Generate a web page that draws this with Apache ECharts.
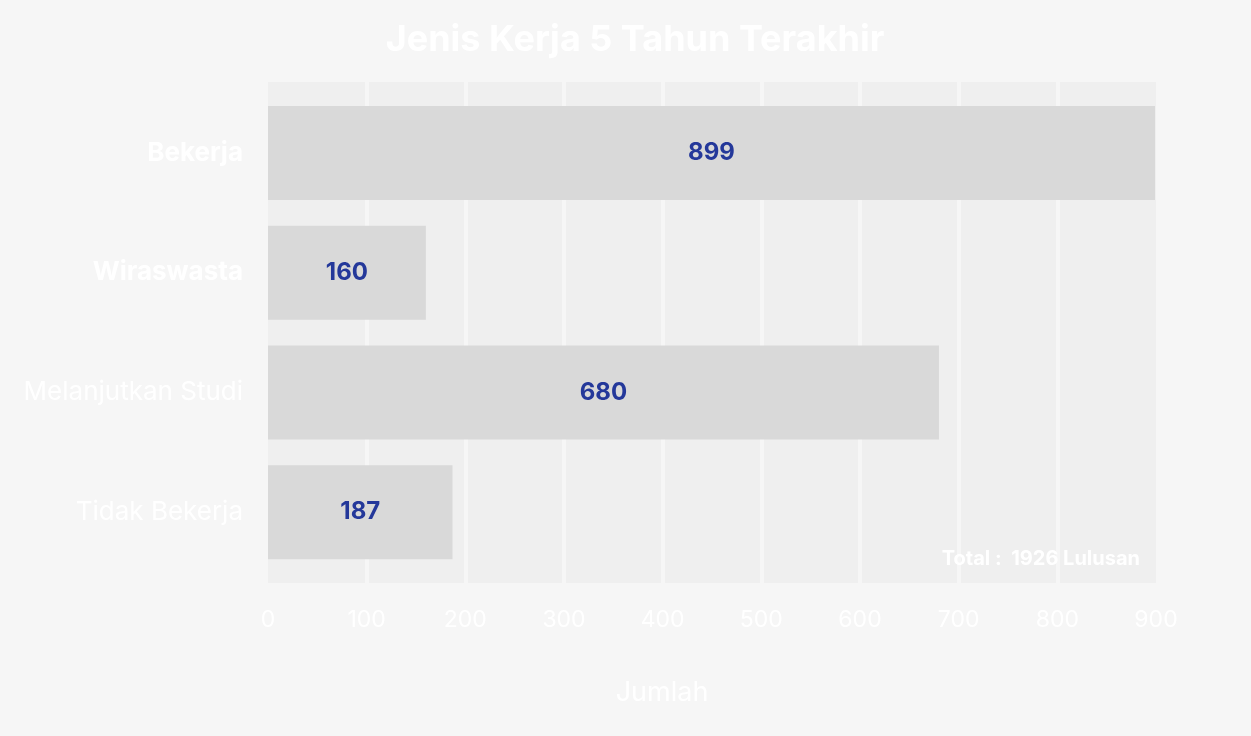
<!DOCTYPE html>
<html><head><meta charset="utf-8">
<script src="https://cdn.jsdelivr.net/npm/echarts@6/dist/echarts.min.js"></script>
<style>html,body{margin:0;padding:0;background:#f6f6f6}#c{width:1251px;height:736px}</style>
</head><body><div id="c"></div>
<script>
const categories = ['Bekerja', 'Wiraswasta', 'Melanjutkan Studi', 'Tidak Bekerja'];
const categoryWeights = ['bold', 'bold', 'normal', 'normal'];
const values = [899, 160, 680, 187];
const xTicks = [0, 100, 200, 300, 400, 500, 600, 700, 800, 900];
const titleText = 'Jenis Kerja 5 Tahun Terakhir';
const axisNameText = 'Jumlah';
const totalText = 'Total :  1926 Lulusan';

const FONT = 'Inter';
const chart = echarts.init(document.getElementById('c'), null, {renderer: 'canvas'});
chart.setOption({
  backgroundColor: '#f6f6f6',
  animation: false,
  textStyle: {fontFamily: FONT},
  title: [
    {text: titleText, left: 630, top: 17, textAlign: 'center',
     textStyle: {color: '#ffffff', fontSize: 36, fontWeight: 'bold', fontFamily: FONT}},
    {text: axisNameText, left: 657, top: 674, textAlign: 'center',
     textStyle: {color: '#ffffff', fontSize: 27, fontWeight: 'normal', fontFamily: FONT}},
    {text: totalText, left: 1135, top: 544, textAlign: 'right',
     textStyle: {color: '#ffffff', fontSize: 20, fontWeight: 'bold', fontFamily: FONT}}
  ],
  grid: [
    {left: 268, right: 95, top: 82, bottom: 153, show: true, backgroundColor: '#efefef', borderWidth: 0},
    {left: 268, right: 95, top: 93, bottom: 164}
  ],
  xAxis: [
    {gridIndex: 0, type: 'value', min: 0, max: 900, interval: 100,
     axisLine: {show: false}, axisTick: {show: false},
     splitLine: {show: true, lineStyle: {color: '#f6f6f6', width: 4}, showMinLine: false, showMaxLine: false},
     axisLabel: {color: '#ffffff', fontSize: 23, margin: 26, fontFamily: FONT,
       formatter: v => xTicks.indexOf(v) >= 0 ? String(v) : ''}},
    {gridIndex: 1, type: 'value', min: 0, max: 900, show: false}
  ],
  yAxis: [
    {gridIndex: 0, type: 'category', data: categories, show: false},
    {gridIndex: 1, type: 'category', inverse: true,
     data: categories.map((c, i) => ({value: c, textStyle: {fontWeight: categoryWeights[i]}})),
     axisLine: {show: false}, axisTick: {show: false}, splitLine: {show: false},
     axisLabel: {color: '#ffffff', fontSize: 26, margin: 25, fontFamily: FONT}}
  ],
  series: [{
    type: 'bar', xAxisIndex: 1, yAxisIndex: 1, data: values, barWidth: 94,
    itemStyle: {color: '#d9d9d9'},
    label: {show: true, position: 'inside', color: '#24389a', fontSize: 24, fontWeight: 'bold', fontFamily: FONT}
  }]
});
</script></body></html>
